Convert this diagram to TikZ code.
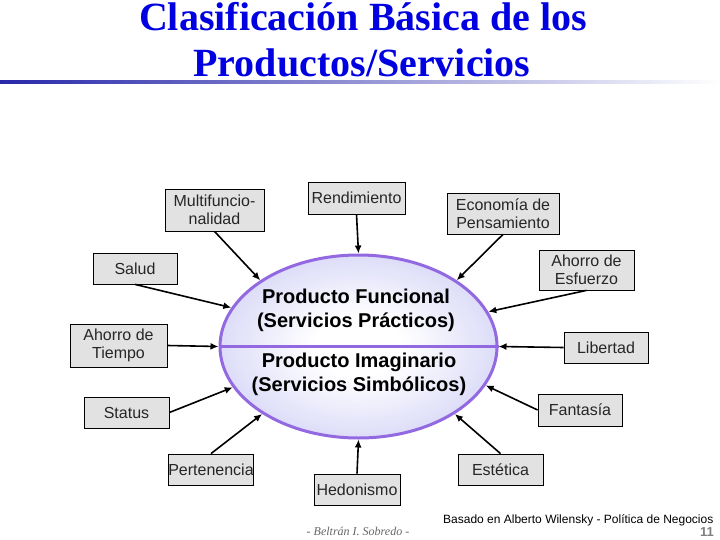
\documentclass[tikz,border=0pt]{standalone}
\usepackage{fontspec}
\setmainfont{Liberation Sans}
\newfontfamily\titlefont{Liberation Serif}
\usepackage{tikz}
\usetikzlibrary{shapes.geometric}
\usetikzlibrary{arrows.meta}
\definecolor{titleblue}{RGB}{0,0,225}
\definecolor{lav}{RGB}{170,170,238}
\definecolor{lavborder}{RGB}{147,105,225}
\definecolor{marble}{RGB}{226,226,226}
\definecolor{rulecolor}{RGB}{40,40,170}
\pgfdeclareradialshading{glow}{\pgfpoint{0bp}{0bp}}{color(0bp)=(white); color(8bp)=(white); color(50bp)=(lav)}

\begin{document}
\begin{tikzpicture}[x=1pt,y=-1pt,
    marble/.style={draw, line width=0.8pt, fill=marble, inner sep=0pt, align=center,
        font=\fontsize{16}{18.5}\selectfont, text=black!85},
    ellipsetext/.style={align=center, font=\bfseries\fontsize{20}{24}\selectfont},
    arr/.style={-{Latex[length=8pt,width=7pt]}, line width=1.6pt}]
        \useasboundingbox (0,0) rectangle (720,540);
        \node[anchor=base, text=titleblue, font=\titlefont\bfseries\fontsize{40}{46}\selectfont] (title1) at (363,31) {Clasificación Básica de los};
        \node[anchor=base, text=titleblue, font=\titlefont\bfseries\fontsize{40}{46}\selectfont] (title2) at (362,77) {Productos/Servicios};
        \shade[left color=rulecolor, right color=white] (0,81) rectangle (720,84);
        \node[ellipse, draw=lavborder, line width=3pt, shading=glow, minimum width=277pt, minimum height=183pt] (prod) at (358.5,346.5) {};
        \draw[lavborder, line width=3pt] (prod.180) -- (prod.0);
        \node[ellipsetext] (func) at (356,310) {Producto Funcional\\(Servicios Prácticos)};
        \node[ellipsetext] (imag) at (359,374) {Producto Imaginario\\(Servicios Simbólicos)};
        \node[marble, minimum width=99pt, minimum height=42pt] (multi) at (214.5,210) {Multifuncio-\\nalidad};
        \node[marble, minimum width=97pt, minimum height=32pt] (rend) at (356.5,198) {Rendimiento};
        \node[marble, minimum width=112pt, minimum height=41pt] (econ) at (503,213.5) {Economía de\\Pensamiento};
        \node[marble, minimum width=95pt, minimum height=40pt] (esf) at (586.5,270) {Ahorro de\\Esfuerzo};
        \node[marble, minimum width=84pt, minimum height=31pt] (salud) at (135,268.5) {Salud};
        \node[marble, minimum width=97pt, minimum height=43pt] (tiempo) at (118.5,345.5) {Ahorro de\\Tiempo};
        \node[marble, minimum width=84pt, minimum height=31pt] (lib) at (606,347.5) {Libertad};
        \node[marble, minimum width=85pt, minimum height=31pt] (status) at (126.5,412.5) {Status};
        \node[marble, minimum width=84pt, minimum height=32pt] (fant) at (580,410) {Fantasía};
        \node[marble, minimum width=84pt, minimum height=31pt] (pert) at (211,469.5) {Pertenencia};
        \node[marble, minimum width=85pt, minimum height=31pt] (est) at (500.5,469.5) {Estética};
        \node[marble, minimum width=86pt, minimum height=31pt] (hed) at (357,489.5) {Hedonismo};
        \draw[arr] (multi.south) -- (prod.146);
        \draw[arr] (rend.south) -- (prod.90);
        \draw[arr] (econ.south) -- (prod.34);
        \draw[arr] (esf.south) -- (prod.15);
        \draw[arr] (lib.west) -- (prod.0);
        \draw[arr] (fant.west) -- (prod.-17);
        \draw[arr] (est.north) -- (prod.-35);
        \draw[arr] (hed.north) -- (prod.-90);
        \draw[arr] (pert.north) -- (prod.215);
        \draw[arr] (status.east) -- (prod.198);
        \draw[arr] (tiempo.east) -- (prod.180);
        \draw[arr] (salud.south) -- (prod.163);
        \node[anchor=base, text=black!60, font=\titlefont\itshape\fontsize{12}{14}\selectfont] (author) at (358,535) {- Beltrán I. Sobredo -};
        \node[anchor=base west, inner sep=0pt, font=\fontsize{12}{14}\selectfont] (source) at (443,523) {Basado en Alberto Wilensky - Política de Negocios};
        \node[anchor=base east, inner sep=0pt, text=black!50, font=\bfseries\fontsize{13}{15}\selectfont] (page) at (714,536) {11};
    \end{tikzpicture}
\end{document}
